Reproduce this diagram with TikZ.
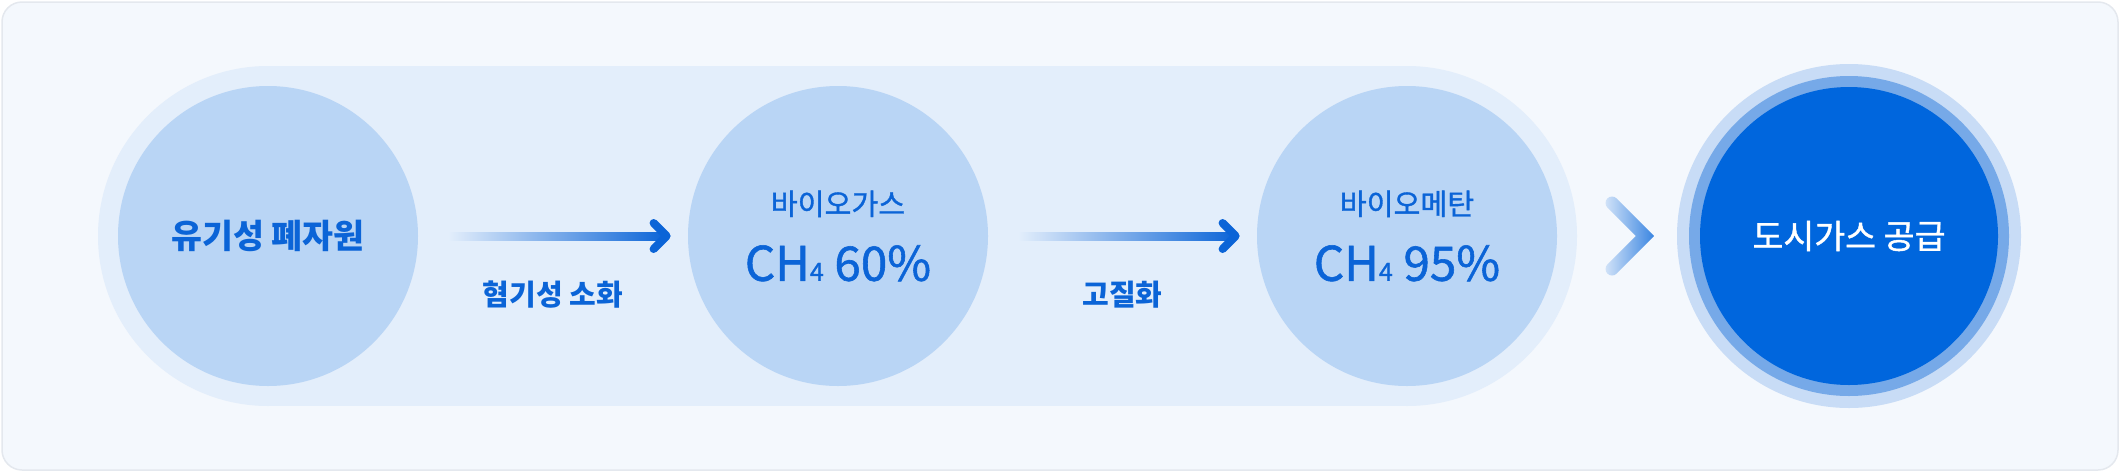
\documentclass[tikz,border=0pt]{standalone}
\usepackage{fontspec}
\usepackage{tikz}
\usetikzlibrary{calc,backgrounds}
\newfontfamily\krfont{Noto Sans CJK KR}
\newfontfamily\krmed[FakeBold=1.2]{Noto Sans CJK KR}
\definecolor{panelfill}{HTML}{F4F8FD}
\definecolor{panelline}{HTML}{E4E8EE}
\definecolor{bandfill}{HTML}{E3EEFB}
\definecolor{stagefill}{HTML}{B9D5F5}
\definecolor{inkblue}{HTML}{0B64D7}
\definecolor{supplyblue}{HTML}{0066DD}
\definecolor{ringmid}{HTML}{76A9E8}
\definecolor{ringout}{HTML}{C8DCF6}
\definecolor{chevlight}{HTML}{D2E3F8}
\definecolor{chevdark}{HTML}{3A85E1}
\newcommand{\chfour}[1]{{\fontsize{23.8}{28}\selectfont CH{\fontsize{12.5}{12}\selectfont 4} #1\%}}

\begin{document}
\begin{tikzpicture}[x=.5pt, y=-.5pt,
		stage/.style={circle, fill=stagefill, minimum size=150pt, inner sep=0pt, text=inkblue, align=center},
		supply/.style={circle, fill=supplyblue, minimum size=149pt, inner sep=0pt, text=white, font=\krmed\fontsize{16.8}{18}\selectfont},
		steplabel/.style={text=inkblue, font=\krfont\bfseries\fontsize{14.5}{16}\selectfont},
		flowhead/.style={draw=inkblue, line width=4pt, line cap=round, line join=round}]
	\useasboundingbox (0,0) rectangle (2120,472);
	\node[stage, font=\krfont\bfseries\fontsize{16.8}{18}\selectfont] (waste) at (268,236) {유기성 폐자원};
	\node[stage, font=\krmed\fontsize{14.6}{33}\selectfont] (biogas) at (838,236) {바이오가스\\\chfour{60}};
	\node[stage, font=\krmed\fontsize{14.6}{33}\selectfont] (methane) at (1407,236) {바이오메탄\\\chfour{95}};
	\node[supply] (city) at (1849,236) {도시가스 공급};
	\begin{scope}[on background layer]
		\draw[panelline, fill=panelfill, line width=.75pt, rounded corners=10pt] (2,2) rectangle (2118,470);
		\foreach \n in {waste,methane}
			\fill[bandfill] (\n) circle[radius=85pt];
		\fill[bandfill] ($(waste)+(0,-170)$) rectangle ($(methane)+(0,170)$);
		\fill[ringout] (city) circle[radius=86pt];
		\fill[ringmid] (city) circle[radius=80pt];
	\end{scope}
	\foreach \a/\b/\t [count=\k] in {waste/biogas/혐기성 소화, biogas/methane/고질화} {
		\coordinate (s\k) at ($(\a.east)+(30,0)$);
		\coordinate (e\k) at ($(\b.west)+(-21,0)$);
		\shade[left color=bandfill, right color=inkblue] ($(s\k)+(0,-4)$) rectangle ($(e\k)+(0,4)$);
		\draw[flowhead] ($(e\k)+(-13,-13)$) -- (e\k) -- ($(e\k)+(-13,13)$);
		\node[steplabel] (l\k) at ($(\a.east)!.5!(\b.west)+(0,59)$) {\t};
	}
	\shade[left color=chevlight, right color=chevdark] (1607.4,207.6) arc (135:315:6.5) -- (1654.2,236) -- (1616.6,273.6) arc (45:225:6.5) -- (1635.8,236) -- cycle;
\end{tikzpicture}
\end{document}
